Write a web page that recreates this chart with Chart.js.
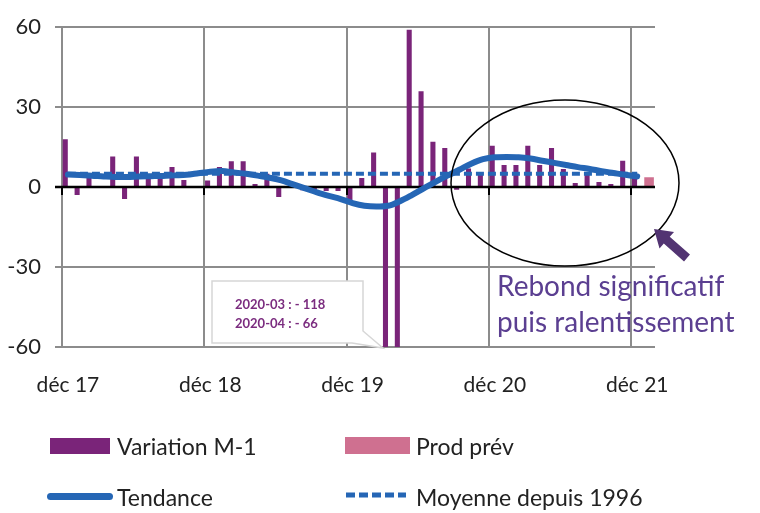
<!DOCTYPE html>
<html lang="fr">
<head>
<meta charset="utf-8">
<script src="https://cdn.jsdelivr.net/npm/chart.js@4.4.0/dist/chart.umd.min.js"></script>
<style>
  html, body { margin: 0; padding: 0; background: #fff; }
  #wrap { position: relative; width: 760px; height: 513px; font-family: Lato, "Open Sans", sans-serif; color: #222; }
  #chart { position: absolute; left: 0; top: 0; }
  .txt { position: absolute; white-space: nowrap; }
  .lg { font-size: 23px; line-height: 26px; }
  .box { position: absolute; }
  .bubble { font-size: 13px; line-height: 19px; font-weight: bold; color: #7b2c7f; }
  .note { font-size: 28px; line-height: 36px; color: #5b3f91; }
</style>
</head>
<body>
<div id="wrap">
  <canvas id="chart" width="760" height="513"></canvas>

  <div class="txt bubble" style="left:235px; top:295px;">2020-03 : - 118<br>2020-04 : - 66</div>
  <div class="txt note" style="left:497px; top:267px;">Rebond significatif<br>puis ralentissement</div>

  <div class="box" style="left:50px; top:438px; width:60px; height:16px; background:#7a2479;"></div>
  <div class="txt lg" style="left:117px; top:433px;">Variation M-1</div>
  <div class="box" style="left:345px; top:437px; width:65px; height:17px; background:#cf7090;"></div>
  <div class="txt lg" style="left:416px; top:433px;">Prod prév</div>
  <div class="box" style="left:47px; top:493px; width:66px; height:7px; border-radius:4px; background:#2566b5;"></div>
  <div class="txt lg" style="left:117px; top:484px;">Tendance</div>
  <svg class="box" style="left:344px; top:490px;" width="64" height="10">
    <line x1="2" y1="5" x2="62" y2="5" stroke="#2566b5" stroke-width="5" stroke-dasharray="9 4"></line>
  </svg>
  <div class="txt lg" style="left:416px; top:484px;">Moyenne depuis 1996</div>
</div>

<script>
// monthly categories, déc 17 -> janv 22
var months = [
  "déc 17", "janv 18", "févr 18", "mars 18", "avr 18", "mai 18", "juin 18", "juil 18", "août 18", "sept 18", "oct 18", "nov 18",
  "déc 18", "janv 19", "févr 19", "mars 19", "avr 19", "mai 19", "juin 19", "juil 19", "août 19", "sept 19", "oct 19", "nov 19",
  "déc 19", "janv 20", "févr 20", "mars 20", "avr 20", "mai 20", "juin 20", "juil 20", "août 20", "sept 20", "oct 20", "nov 20",
  "déc 20", "janv 21", "févr 21", "mars 21", "avr 21", "mai 21", "juin 21", "juil 21", "août 21", "sept 21", "oct 21", "nov 21",
  "déc 21", "janv 22"
];

// Variation M-1 (2020-03 = -118 and 2020-04 = -66 run off the axis)
var variation = [
  18, -3, 4, 0, 11.5, -4.5, 11.5, 4, 4.5, 7.5, 2.7, 0,
  2.5, 7.5, 9.7, 9.7, 1.2, 5, -3.7, 0, -1.2, -1, -1.5, -1.5,
  -6, 3.4, 13, -118, -66, 59, 36, 17, 14.7, -1, 7, 5,
  15.5, 8.3, 8.3, 15.5, 8.3, 14.7, 6.8, 1.5, 5.6, 1.9, 1.2, 9.9,
  5.6, null
];

var prodPrev = [
  null, null, null, null, null, null, null, null, null, null, null, null,
  null, null, null, null, null, null, null, null, null, null, null, null,
  null, null, null, null, null, null, null, null, null, null, null, null,
  null, null, null, null, null, null, null, null, null, null, null, null,
  null, 3.7
];

var trend = [
  4.7, 4.5, 4.3, 4.0, 3.8, 3.8, 4.0, 4.1, 4.2, 4.4, 4.6, 5.2,
  5.8, 6.0, 5.5, 5.0, 4.3, 3.5, 2.5, 1.0, -0.5, -2.0, -3.3, -4.5,
  -6.0, -7.0, -7.3, -7.0, -5.3, -3.0, -0.5, 2.0, 4.3, 6.5, 8.8, 10.5,
  11.2, 11.3, 11.2, 10.7, 9.9, 9.1, 8.3, 7.5, 6.8, 6.0, 5.3, 4.6,
  4.0, null
];

var average = [
  5, 5, 5, 5, 5, 5, 5, 5, 5, 5, 5, 5,
  5, 5, 5, 5, 5, 5, 5, 5, 5, 5, 5, 5,
  5, 5, 5, 5, 5, 5, 5, 5, 5, 5, 5, 5,
  5, 5, 5, 5, 5, 5, 5, 5, 5, 5, 5, 5,
  5, null
];

var yTicks = [-60, -30, 0, 30, 60];

var PURPLE = "#7a2479";
var PINK = "#cf7090";
var BLUE = "#2566b5";
var GRID = "#8c8c8c";

// zero line + black ticks drawn after the bars, under the lines
var decor = {
  id: "decor",
  afterDatasetDraw: function (chart, args) {
    if (args.meta.label !== "Variation M-1") return;
    var ctx = chart.ctx, area = chart.chartArea;
    var x = chart.scales.x, y0 = chart.scales.y.getPixelForValue(0);
    var step = (area.right - area.left) / months.length;
    ctx.save();
    ctx.strokeStyle = "#000";
    ctx.lineWidth = 2.5;
    ctx.beginPath();
    ctx.moveTo(area.left - 7, y0);
    ctx.lineTo(area.right, y0);
    ctx.stroke();
    ctx.lineWidth = 2;
    for (var i = 0; i < months.length; i += 12) {
      var px = Math.round(x.getPixelForValue(i) - step / 2);
      ctx.beginPath();
      ctx.moveTo(px, y0);
      ctx.lineTo(px, y0 + 8);
      ctx.stroke();
    }
    ctx.restore();
  },
  afterDraw: function (chart) {
    var ctx = chart.ctx;
    ctx.save();

    // callout box for the off-scale values
    ctx.beginPath();
    ctx.moveTo(212, 281);
    ctx.lineTo(363, 281);
    ctx.lineTo(363, 331);
    ctx.lineTo(383, 348);
    ctx.lineTo(352, 343);
    ctx.lineTo(212, 343);
    ctx.closePath();
    ctx.fillStyle = "#fff";
    ctx.fill();
    ctx.strokeStyle = "#d6d6d6";
    ctx.lineWidth = 1.5;
    ctx.stroke();

    // ellipse around the rebound
    ctx.beginPath();
    ctx.ellipse(565, 183, 114, 83, 0, 0, Math.PI * 2);
    ctx.strokeStyle = "#000";
    ctx.lineWidth = 1.5;
    ctx.stroke();

    // arrow pointing at the ellipse
    var tx = 654, ty = 229, sx = 687, sy = 258;
    var dx = tx - sx, dy = ty - sy, len = Math.sqrt(dx * dx + dy * dy);
    var ux = dx / len, uy = dy / len, nx = -uy, ny = ux;
    var bx = tx - ux * 17, by = ty - uy * 17;
    ctx.beginPath();
    ctx.moveTo(sx + nx * 4.5, sy + ny * 4.5);
    ctx.lineTo(bx + nx * 4.5, by + ny * 4.5);
    ctx.lineTo(bx + nx * 11, by + ny * 11);
    ctx.lineTo(tx, ty);
    ctx.lineTo(bx - nx * 11, by - ny * 11);
    ctx.lineTo(bx - nx * 4.5, by - ny * 4.5);
    ctx.lineTo(sx - nx * 4.5, sy - ny * 4.5);
    ctx.closePath();
    ctx.fillStyle = "#523472";
    ctx.fill();

    ctx.restore();
  }
};

Chart.defaults.font.family = "Lato, 'Open Sans', sans-serif";

new Chart(document.getElementById("chart"), {
  type: "bar",
  data: {
    labels: months,
    datasets: [
      {
        type: "line", label: "Tendance", data: trend,
        borderColor: BLUE, borderWidth: 6, pointRadius: 0,
        tension: 0.4, cubicInterpolationMode: "monotone",
        borderCapStyle: "round", borderJoinStyle: "round", order: 1
      },
      {
        type: "line", label: "Moyenne depuis 1996", data: average,
        borderColor: BLUE, borderWidth: 4, borderDash: [8, 4], pointRadius: 0, order: 2
      },
      {
        label: "Variation M-1", data: variation, backgroundColor: PURPLE,
        barPercentage: 0.95, categoryPercentage: 0.9, order: 3
      },
      {
        label: "Prod prév", data: prodPrev, backgroundColor: PINK,
        barPercentage: 0.9, categoryPercentage: 0.9, skipNull: true, order: 4
      }
    ]
  },
  options: {
    responsive: false,
    animation: false,
    layout: { padding: { left: 0, top: 24, right: 105, bottom: 106 } },
    plugins: { legend: { display: false }, tooltip: { enabled: false } },
    scales: {
      x: {
        grid: {
          offset: true, drawTicks: false, lineWidth: 2,
          color: function (c) { return c.index % 12 === 0 ? GRID : "rgba(0,0,0,0)"; }
        },
        border: { display: false },
        ticks: {
          autoSkip: false, maxRotation: 0, padding: 26, color: "#222",
          font: { size: 21 },
          callback: function (v, i) { return i % 12 === 0 ? months[i] : ""; }
        },
        afterFit: function (s) { s.height = 60; }
      },
      y: {
        min: -60, max: 60,
        afterBuildTicks: function (s) { s.ticks = yTicks.map(function (v) { return { value: v }; }); },
        ticks: { padding: 14, color: "#222", font: { size: 22 } },
        grid: {
          lineWidth: 2, tickLength: 7,
          color: function (c) { return c.tick && c.tick.value === 0 ? "rgba(0,0,0,0)" : GRID; }
        },
        border: { display: false },
        afterFit: function (s) { s.width = 62; }
      }
    }
  },
  plugins: [decor]
});
</script>
</body>
</html>
